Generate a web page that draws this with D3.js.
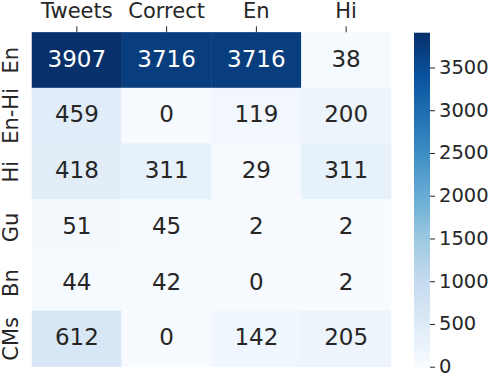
<!DOCTYPE html>
<html>
<head>
<meta charset="utf-8">
<script src="https://cdn.jsdelivr.net/npm/d3@7"></script>
<style>
  body { margin: 0; background: #fff; }
  text { font-family: "DejaVu Sans", sans-serif; }
</style>
</head>
<body>
<svg id="chart" width="490" height="376"></svg>
<script>
var columns = ['Tweets', 'Correct', 'En', 'Hi'];
var rows = ['En', 'En-Hi', 'Hi', 'Gu', 'Bn', 'CMs'];
var values = [
  [3907, 3716, 3716, 38],
  [459, 0, 119, 200],
  [418, 311, 29, 311],
  [51, 45, 2, 2],
  [44, 42, 0, 2],
  [612, 0, 142, 205]
];
var colorTicks = [0, 500, 1000, 1500, 2000, 2500, 3000, 3500];
var blues = ['#f7fbff', '#deebf7', '#c6dbef', '#9ecae1', '#6baed6', '#4292c6', '#2171b5', '#08519c', '#08306b'];

var svg = d3.select('#chart');
var vmax = d3.max(values, function(r) { return d3.max(r); });

// matplotlib Blues is a linear ramp through the 9 brewer colours
var color = d3.scaleLinear()
    .domain(blues.map(function(c, i) { return vmax * i / (blues.length - 1); }))
    .range(blues)
    .interpolate(d3.interpolateRgb);

var x = d3.scaleBand().domain(columns).range([32, 391]);
var y = d3.scaleBand().domain(rows).range([32.3, 366.7]);

var cells = [];
rows.forEach(function(r, i) {
  columns.forEach(function(c, j) {
    cells.push({row: r, col: c, value: values[i][j]});
  });
});

svg.selectAll('rect.cell')
    .data(cells)
    .enter().append('rect')
    .attr('class', 'cell')
    .attr('x', function(d) { return x(d.col); })
    .attr('y', function(d) { return y(d.row); })
    .attr('width', x.bandwidth())
    .attr('height', y.bandwidth())
    .attr('fill', function(d) { return color(d.value); })
    .attr('stroke', function(d) { return color(d.value); })
    .attr('stroke-width', 0.5);

function textColor(v) {
  var c = d3.rgb(color(v));
  var lum = [c.r, c.g, c.b].map(function(u) {
    u = u / 255;
    return u <= 0.03928 ? u / 12.92 : Math.pow((u + 0.055) / 1.055, 2.4);
  });
  var l = 0.2126 * lum[0] + 0.7152 * lum[1] + 0.0722 * lum[2];
  return l > 0.408 ? '#262626' : '#ffffff';
}

svg.selectAll('text.annot')
    .data(cells)
    .enter().append('text')
    .attr('class', 'annot')
    .attr('x', function(d) { return x(d.col) + x.bandwidth() / 2; })
    .attr('y', function(d) { return y(d.row) + y.bandwidth() / 2; })
    .attr('text-anchor', 'middle')
    .attr('dy', '0.28em')
    .attr('font-size', 23)
    .attr('fill', function(d) { return textColor(d.value); })
    .text(function(d) { return d.value; });

// top axis
var xAxis = svg.append('g')
    .attr('transform', 'translate(0,32.3)')
    .call(d3.axisTop(x).tickSize(6).tickPadding(8));
xAxis.select('.domain').remove();
xAxis.selectAll('line').attr('stroke', '#262626').attr('stroke-width', 1);
xAxis.selectAll('text').attr('font-size', 21).attr('fill', '#262626')
    .attr('font-family', '"DejaVu Sans", sans-serif');

// left labels, rotated
svg.selectAll('text.rowlab')
    .data(rows)
    .enter().append('text')
    .attr('class', 'rowlab')
    .attr('transform', function(d) {
      return 'translate(17.5,' + (y(d) + y.bandwidth() / 2) + ') rotate(-90)';
    })
    .attr('text-anchor', 'middle')
    .attr('font-size', 21)
    .attr('fill', '#262626')
    .text(function(d) { return d; });

// colour bar
var cbX = 414, cbW = 16;
var cbScale = d3.scaleLinear().domain([0, vmax]).range([366.7, 32.7]);
var defs = svg.append('defs');
var grad = defs.append('linearGradient')
    .attr('id', 'cbgrad')
    .attr('x1', 0).attr('y1', 1).attr('x2', 0).attr('y2', 0);
blues.forEach(function(c, i) {
  grad.append('stop')
      .attr('offset', i / (blues.length - 1))
      .attr('stop-color', c);
});
svg.append('rect')
    .attr('x', cbX)
    .attr('y', cbScale(vmax))
    .attr('width', cbW)
    .attr('height', cbScale(0) - cbScale(vmax))
    .attr('fill', 'url(#cbgrad)');

var cbAxis = svg.append('g')
    .attr('transform', 'translate(' + (cbX + cbW) + ',0)')
    .call(d3.axisRight(cbScale).tickValues(colorTicks).tickFormat(d3.format('d'))
      .tickSize(5).tickPadding(4));
cbAxis.select('.domain').remove();
cbAxis.selectAll('line').attr('stroke', '#262626');
cbAxis.selectAll('text').attr('font-size', 19.5).attr('fill', '#262626')
    .attr('font-family', '"DejaVu Sans", sans-serif')
    .attr('dy', '0.3em');
</script>
</body>
</html>
